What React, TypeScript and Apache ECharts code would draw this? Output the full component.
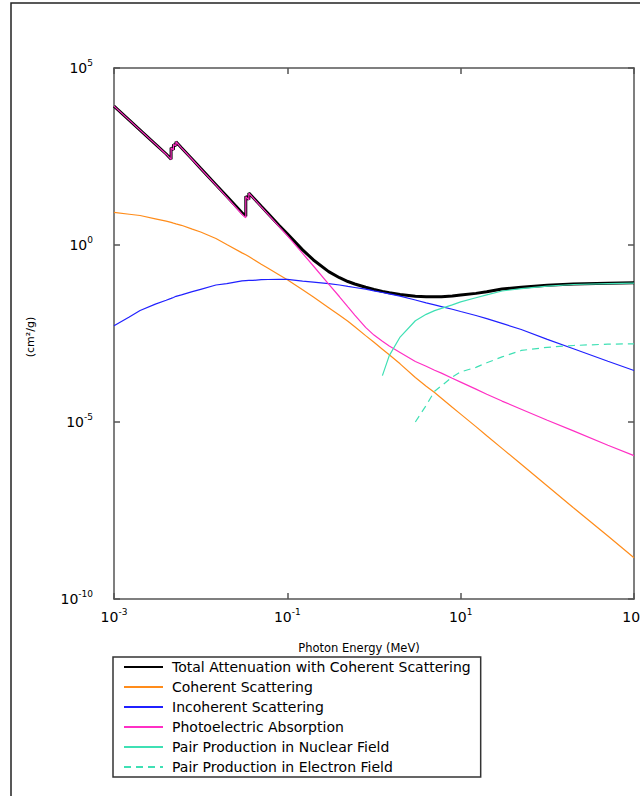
import React, { useEffect, useRef } from "react";
import * as echarts from "echarts";

// Photon energy grid (MeV); repeated energies mark absorption edges
const energy = [
  0.001, 0.0015, 0.002, 0.003, 0.004, 0.004557, 0.004557, 0.004852, 0.004852, 0.005188, 0.005188,
  0.006, 0.008, 0.01, 0.015, 0.02, 0.03, 0.03317, 0.03317, 0.03598, 0.03598, 0.04, 0.05, 0.06,
  0.08, 0.1, 0.15, 0.2, 0.3, 0.4, 0.5, 0.6, 0.8, 1, 1.25, 1.5, 2, 3, 4, 5, 6, 8, 10, 15, 20, 30,
  50, 100, 200, 500, 1000,
];

// cm^2/g
const totalAttenuation = [
  8400, 3380, 1770, 711, 372, 266, 560, 488, 690, 640, 830, 561, 263, 146, 50.5, 23.7, 8.1, 6.5,
  23.9, 19.4, 29.5, 22.4, 12.4, 7.7, 3.6, 2.06, 0.73, 0.378, 0.177, 0.119, 0.093, 0.079, 0.064,
  0.0553, 0.049, 0.0447, 0.0399, 0.0358, 0.0347, 0.0347, 0.0348, 0.0361, 0.0384, 0.043, 0.0478,
  0.057, 0.0641, 0.0727, 0.0794, 0.0834, 0.086,
];

const coherent = [
  8.3, 7.4, 6.8, 5.5, 4.7, 4.35, 4.35, 4.15, 4.15, 3.95, 3.95, 3.6, 2.8, 2.33, 1.52, 1.03, 0.6,
  0.53, 0.53, 0.47, 0.47, 0.4, 0.286, 0.22, 0.145, 0.104, 0.054, 0.034, 0.0169, 0.0103, 0.007,
  0.0049, 0.00275, 0.00178, 0.00114, 0.00079, 0.00044, 0.00018, 0.000102, 6.8e-5, 4.7e-5, 2.6e-5,
  1.67e-5, 7.4e-6, 4.1e-6, 1.8e-6, 6.4e-7, 1.56e-7, 3.8e-8, 6.0e-9, 1.46e-9,
];

const incoherent = [
  0.0052, 0.0093, 0.0141, 0.0214, 0.0275, 0.031, 0.031, 0.033, 0.033, 0.0355, 0.0355, 0.039,
  0.048, 0.056, 0.074, 0.081, 0.097, 0.099, 0.099, 0.1, 0.1, 0.1, 0.105, 0.106, 0.107, 0.107,
  0.095, 0.089, 0.081, 0.074, 0.0676, 0.063, 0.0566, 0.0507, 0.0456, 0.0418, 0.036, 0.0279,
  0.0232, 0.0203, 0.0182, 0.0153, 0.0132, 0.0102, 0.0083, 0.0061, 0.0041, 0.00216, 0.00117,
  0.00052, 0.000285,
];

const photoelectric = [
  8390, 3370, 1760, 705, 367, 262, 556, 484, 686, 636, 826, 557, 260, 143.6, 48.9, 22.6, 7.4,
  5.86, 23.3, 18.8, 28.9, 21.9, 12.0, 7.37, 3.35, 1.85, 0.58, 0.255, 0.079, 0.0345, 0.0179,
  0.0105, 0.0047, 0.00285, 0.0019, 0.0014, 0.00092, 0.00051, 0.000375, 0.00029, 0.00024,
  0.000172, 0.000134, 8.5e-5, 6.1e-5, 3.9e-5, 2.3e-5, 1.12e-5, 5.6e-6, 2.2e-6, 1.12e-6,
];

const pairNuclear = [
  null, null, null, null, null, null, null, null, null, null, null, null, null, null, null, null,
  null, null, null, null, null, null, null, null, null, null, null, null, null, null, null, null,
  null, null, 0.000204, 0.00075, 0.00251, 0.00724, 0.011, 0.014, 0.0162, 0.0204, 0.0248, 0.0324,
  0.0389, 0.0501, 0.0589, 0.0692, 0.0767, 0.0813, 0.0841,
];

const pairElectron = [
  null, null, null, null, null, null, null, null, null, null, null, null, null, null, null, null,
  null, null, null, null, null, null, null, null, null, null, null, null, null, null, null, null,
  null, null, null, null, null, 1.0e-5, 2.95e-5, 7.4e-5, 0.000105, 0.000186, 0.00026, 0.00035,
  0.00047, 0.00069, 0.00105, 0.00129, 0.00145, 0.00158, 0.00162,
];

const seriesNames = [
  "Total Attenuation with Coherent Scattering",
  "Coherent Scattering",
  "Incoherent Scattering",
  "Photoelectric Absorption",
  "Pair Production in Nuclear Field",
  "Pair Production in Electron Field",
];

const xTickValues = [0.001, 0.1, 10, 1000];
const yTickValues = [1e-10, 1e-5, 1, 1e5];

const FONT = "DejaVu Sans";

function pairs(values: (number | null)[]) {
  const out: [number, number][] = [];
  values.forEach((v, i) => {
    if (v != null) out.push([energy[i], v]);
  });
  return out;
}

function powLabel(v: number) {
  const e = Math.round(Math.log10(v));
  return `{b|10}{s|${e}}`;
}

const labelRich = {
  b: { fontSize: 14, fontFamily: FONT, color: "#000", lineHeight: 20 },
  s: { fontSize: 9, fontFamily: FONT, color: "#000", lineHeight: 10, verticalAlign: "top" },
};

export default function App() {
  const ref = useRef<HTMLDivElement>(null);
  useEffect(() => {
    if (!ref.current) return;
    const chart = echarts.init(ref.current, undefined, {
      renderer: "svg",
      width: 640,
      height: 796,
    });
    const axisLine = { show: true, lineStyle: { color: "#555", width: 1.5 } };
    const tick = (vals: number[]) => ({
      show: true,
      inside: true,
      length: 6,
      customValues: vals,
      lineStyle: { color: "#555", width: 1.5 },
    });
    const lineSeries = (
      name: string,
      values: (number | null)[],
      color: string,
      width: number,
      type: any = "solid",
      z = 2
    ) => ({
      name,
      type: "line",
      data: pairs(values),
      showSymbol: false,
      symbol: "none",
      z,
      lineStyle: { color, width, type },
      itemStyle: { color },
    });
    chart.setOption({
      animation: false,
      backgroundColor: "#fff",
      grid: {
        left: 114,
        top: 68,
        right: 6,
        bottom: 197,
        containLabel: false,
        outerBoundsMode: "none",
      },
      xAxis: [
        {
          type: "log",
          logBase: 10,
          min: 0.001,
          max: 1000,
          position: "bottom",
          axisLine,
          axisTick: tick(xTickValues),
          minorTick: { show: false },
          splitLine: { show: false },
          axisLabel: {
            customValues: xTickValues,
            formatter: powLabel,
            rich: labelRich,
            margin: 8,
            hideOverlap: false,
          },
        },
        {
          type: "log",
          logBase: 10,
          min: 0.001,
          max: 1000,
          position: "top",
          axisLine,
          axisTick: tick(xTickValues),
          splitLine: { show: false },
          axisLabel: { show: false },
        },
      ],
      yAxis: [
        {
          type: "log",
          logBase: 10,
          min: 1e-10,
          max: 1e5,
          position: "left",
          axisLine,
          axisTick: tick(yTickValues),
          minorTick: { show: false },
          splitLine: { show: false },
          axisLabel: {
            customValues: yTickValues,
            formatter: powLabel,
            rich: labelRich,
            margin: 21,
          },
        },
        {
          type: "log",
          logBase: 10,
          min: 1e-10,
          max: 1e5,
          position: "right",
          axisLine,
          axisTick: tick(yTickValues),
          splitLine: { show: false },
          axisLabel: { show: false },
        },
      ],
      legend: {
        orient: "vertical",
        left: 113,
        top: 657,
        padding: [3, 10, 3, 10],
        itemWidth: 39,
        itemHeight: 14,
        itemGap: 6,
        borderColor: "#333",
        borderWidth: 1.5,
        itemStyle: { opacity: 0 },
        textStyle: { fontFamily: FONT, fontSize: 14, color: "#000", padding: [0, 0, 0, 4] },
        data: seriesNames.map((name, i) =>
          i === 0 ? { name, lineStyle: { width: 2 } } : { name }
        ),
      },
      graphic: [
        {
          type: "rect",
          shape: { x: 11, y: 3, width: 700, height: 900 },
          style: { fill: "none", stroke: "#222", lineWidth: 1.5 },
          silent: true,
        },
        {
          type: "text",
          x: 359,
          y: 648,
          style: {
            text: "Photon Energy (MeV)",
            fontFamily: FONT,
            fontSize: 11.5,
            fill: "#000",
            align: "center",
            verticalAlign: "middle",
          },
        },
        {
          type: "text",
          x: 30,
          y: 337,
          rotation: Math.PI / 2,
          style: {
            text: "(cm²/g)",
            fontFamily: FONT,
            fontSize: 11,
            fill: "#000",
            align: "center",
            verticalAlign: "middle",
          },
        },
      ],
      series: [
        lineSeries(seriesNames[0], totalAttenuation, "#000000", 3, "solid", 2),
        lineSeries(seriesNames[1], coherent, "#ff8c1a", 1.2, "solid", 3),
        lineSeries(seriesNames[2], incoherent, "#2020ff", 1.2, "solid", 3),
        lineSeries(seriesNames[3], photoelectric, "#ff2fc4", 1.2, "solid", 3),
        lineSeries(seriesNames[4], pairNuclear, "#3fe0b4", 1.2, "solid", 3),
        lineSeries(seriesNames[5], pairElectron, "#3fe0b4", 1.2, [7, 5], 3),
      ],
    });
    return () => chart.dispose();
  }, []);
  return (
    <div
      ref={ref}
      style={{ position: "absolute", left: 0, top: 0, width: 640, height: 796 }}
    />
  );
}
